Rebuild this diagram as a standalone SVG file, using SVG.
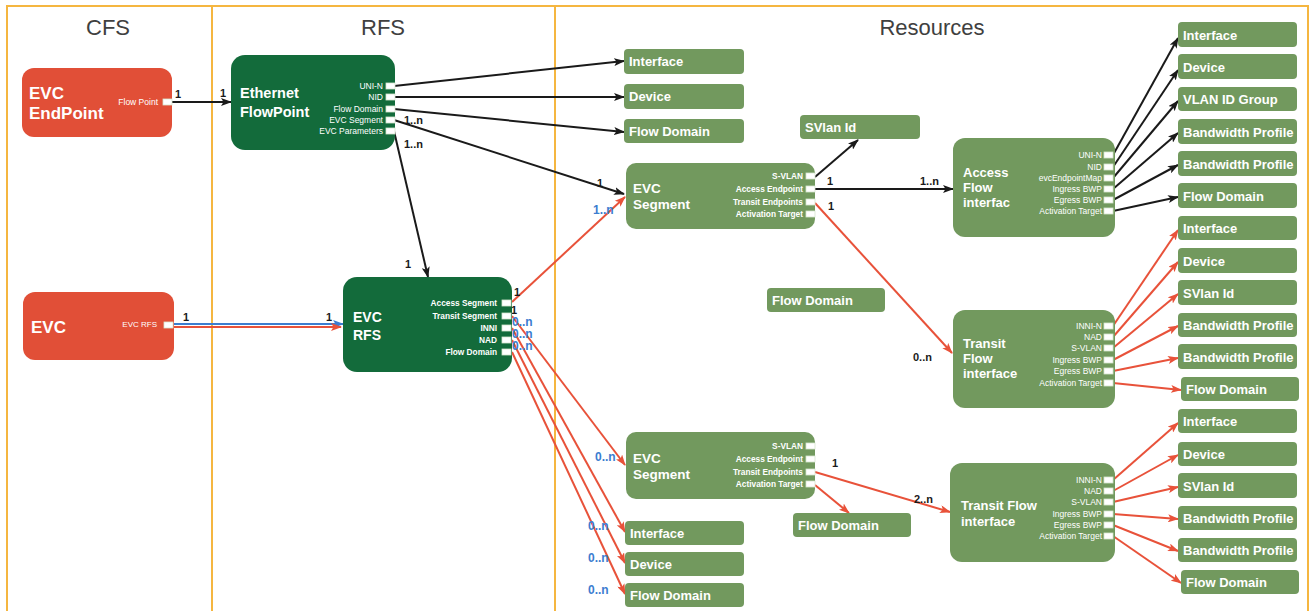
<svg xmlns="http://www.w3.org/2000/svg" width="1311" height="611" viewBox="0 0 1311 611">
<style>
.lane{stroke:#F5B640;stroke-width:2;fill:none}
.hdr{font-family:"Liberation Sans",Arial,sans-serif;font-size:22px;fill:#404040;text-anchor:middle}
.red{fill:#E14F37}
.dg{fill:#136B3B}
.og{fill:#72995E}
.t{font-family:"Liberation Sans",Arial,sans-serif;font-weight:bold;fill:#fff}
.pl{font-family:"Liberation Sans",Arial,sans-serif;font-size:8.5px;fill:#fff;text-anchor:end}
.plb{font-family:"Liberation Sans",Arial,sans-serif;font-size:8.3px;font-weight:bold;fill:#fff;text-anchor:end}
.port{fill:#fff;stroke:#d6e6cf;stroke-width:0.8}
.rt{font-family:"Liberation Sans",Arial,sans-serif;font-size:13px;font-weight:bold;fill:#fff}
.cb{stroke:#1a1a1a;stroke-width:2;fill:none}
.cr{stroke:#E8523A;stroke-width:2;fill:none}
.cbl{stroke:#3C7DD0;stroke-width:2;fill:none}
.lb{font-family:"Liberation Sans",Arial,sans-serif;font-size:11px;font-weight:bold;fill:#1a1a1a}
.lbb{font-family:"Liberation Sans",Arial,sans-serif;font-size:12px;font-weight:bold;fill:#3C7DD0}
</style>
<defs>
<marker id="ab" markerWidth="11" markerHeight="8" refX="10" refY="4" orient="auto" markerUnits="userSpaceOnUse"><path d="M0,0 L11,4 L0,8 L2.5,4 z" fill="#1a1a1a"/></marker>
<marker id="ar" markerWidth="11" markerHeight="8" refX="10" refY="4" orient="auto" markerUnits="userSpaceOnUse"><path d="M0,0 L11,4 L0,8 L2.5,4 z" fill="#E8523A"/></marker>
<marker id="abl" markerWidth="11" markerHeight="8" refX="10" refY="4" orient="auto" markerUnits="userSpaceOnUse"><path d="M0,0 L11,4 L0,8 L2.5,4 z" fill="#3C7DD0"/></marker>
</defs>
<rect width="1311" height="611" fill="#fff"/>
<g id="lanes">
<path class="lane" d="M7,611 V6 H1308 V611 M212,6 V611 M555,6 V611"/>
<text class="hdr" x="108" y="35">CFS</text>
<text class="hdr" x="383" y="35">RFS</text>
<text class="hdr" x="932" y="35">Resources</text>
</g>
<g id="connectors">
<path class="cb" d="M172,102 H231" marker-end="url(#ab)"/>
<path class="cb" d="M394,86 L624,61" marker-end="url(#ab)"/>
<path class="cb" d="M394,97 L624,97" marker-end="url(#ab)"/>
<path class="cb" d="M394,109 L624,132" marker-end="url(#ab)"/>
<path class="cb" d="M394,120 L624,194" marker-end="url(#ab)"/>
<path class="cb" d="M394,131 L428,277" marker-end="url(#ab)"/>
<path class="cb" d="M815,177 L858,140" marker-end="url(#ab)"/>
<path class="cb" d="M815,189 L953,189" marker-end="url(#ab)"/>
<path class="cb" d="M1113,155 L1178,38" marker-end="url(#ab)"/>
<path class="cb" d="M1113,167 L1178,70" marker-end="url(#ab)"/>
<path class="cb" d="M1113,178 L1178,101" marker-end="url(#ab)"/>
<path class="cb" d="M1113,189 L1178,133" marker-end="url(#ab)"/>
<path class="cb" d="M1113,200 L1178,165" marker-end="url(#ab)"/>
<path class="cb" d="M1113,211 L1178,197" marker-end="url(#ab)"/>
<path class="cbl" d="M173,324 H343" marker-end="url(#abl)"/>
<path class="cr" d="M173,327 H341" marker-end="url(#ar)"/>
<path class="cr" d="M512,302 L625,197" marker-end="url(#ar)"/>
<path class="cr" d="M512,316 L625,465" marker-end="url(#ar)"/>
<path class="cr" d="M512,328 L625,532" marker-end="url(#ar)"/>
<path class="cr" d="M512,340 L625,563" marker-end="url(#ar)"/>
<path class="cr" d="M512,352 L625,594" marker-end="url(#ar)"/>
<path class="cr" d="M815,203 L952,353" marker-end="url(#ar)"/>
<path class="cr" d="M1113,326 L1178,230" marker-end="url(#ar)"/>
<path class="cr" d="M1113,337 L1178,262" marker-end="url(#ar)"/>
<path class="cr" d="M1113,348 L1178,294" marker-end="url(#ar)"/>
<path class="cr" d="M1113,360 L1178,326" marker-end="url(#ar)"/>
<path class="cr" d="M1113,371 L1178,358" marker-end="url(#ar)"/>
<path class="cr" d="M1113,383 L1181,390" marker-end="url(#ar)"/>
<path class="cr" d="M815,472 L950,512" marker-end="url(#ar)"/>
<path class="cr" d="M815,485 L849,513" marker-end="url(#ar)"/>
<path class="cr" d="M1113,480 L1178,423" marker-end="url(#ar)"/>
<path class="cr" d="M1113,491 L1178,455" marker-end="url(#ar)"/>
<path class="cr" d="M1113,502 L1178,487" marker-end="url(#ar)"/>
<path class="cr" d="M1113,514 L1178,519" marker-end="url(#ar)"/>
<path class="cr" d="M1113,525 L1178,551" marker-end="url(#ar)"/>
<path class="cr" d="M1113,536 L1181,583" marker-end="url(#ar)"/>
<text class="lb" x="175" y="98">1</text>
<text class="lb" x="220" y="97">1</text>
<text class="lb" x="404" y="124">1..n</text>
<text class="lb" x="404" y="148">1..n</text>
<text class="lb" x="405" y="268">1</text>
<text class="lb" x="597" y="187">1</text>
<text class="lbb" x="593" y="214">1..n</text>
<text class="lb" x="183" y="321">1</text>
<text class="lb" x="326" y="321">1</text>
<text class="lb" x="514" y="296">1</text>
<text class="lb" x="511" y="314">1</text>
<text class="lbb" x="512" y="326">0..n</text>
<text class="lbb" x="512" y="338">0..n</text>
<text class="lbb" x="512" y="350">0..n</text>
<text class="lb" x="827" y="185">1</text>
<text class="lb" x="920" y="185">1..n</text>
<text class="lb" x="828" y="210">1</text>
<text class="lb" x="913" y="361">0..n</text>
<text class="lbb" x="595" y="461">0..n</text>
<text class="lbb" x="588" y="530">0..n</text>
<text class="lbb" x="588" y="562">0..n</text>
<text class="lbb" x="588" y="594">0..n</text>
<text class="lb" x="832" y="467">1</text>
<text class="lb" x="914" y="503">2..n</text>
</g>
<g id="evc-endpoint">
<rect class="red" x="22" y="68" width="150" height="69" rx="12"/>
<text class="t" x="29" y="99" font-size="17">EVC</text>
<text class="t" x="29" y="119" font-size="17">EndPoint</text>
<text class="pl" x="158" y="105" font-size="8">Flow Point</text>
<rect class="port" x="163" y="99" width="9" height="6" stroke="#3a9a4a"/>
</g>
<g id="evc">
<rect class="red" x="23" y="292" width="151" height="68" rx="12"/>
<text class="t" x="31" y="333" font-size="17">EVC</text>
<text class="pl" x="157" y="327" style="font-size:8px">EVC RFS</text>
<rect class="port" x="164" y="322" width="9" height="6" stroke="#3a9a4a"/>
</g>
<g id="ethernet-flowpoint">
<rect class="dg" x="231" y="55" width="164" height="95" rx="14"/>
<text class="t" x="240" y="98" font-size="14.5">Ethernet</text>
<text class="t" x="240" y="117" font-size="14.5">FlowPoint</text>
<text class="pl" x="383" y="89">UNI-N</text>
<text class="pl" x="383" y="100">NID</text>
<text class="pl" x="383" y="112">Flow Domain</text>
<text class="pl" x="383" y="123">EVC Segment</text>
<text class="pl" x="383" y="134">EVC Parameters</text>
<rect class="port" x="386" y="83" width="9" height="6"/>
<rect class="port" x="386" y="94" width="9" height="6"/>
<rect class="port" x="386" y="106" width="9" height="6"/>
<rect class="port" x="386" y="117" width="9" height="6"/>
<rect class="port" x="386" y="128" width="9" height="6"/>
</g>
<g id="evc-rfs">
<rect class="dg" x="343" y="277" width="169" height="95" rx="14"/>
<text class="t" x="353" y="322" font-size="14">EVC</text>
<text class="t" x="353" y="340" font-size="14">RFS</text>
<text class="plb" x="497" y="306">Access Segment</text>
<text class="plb" x="497" y="319">Transit Segment</text>
<text class="plb" x="497" y="331">INNI</text>
<text class="plb" x="497" y="343">NAD</text>
<text class="plb" x="497" y="355">Flow Domain</text>
<rect class="port" x="502" y="300" width="9" height="6"/>
<rect class="port" x="502" y="313" width="9" height="6"/>
<rect class="port" x="502" y="325" width="9" height="6"/>
<rect class="port" x="502" y="337" width="9" height="6"/>
<rect class="port" x="502" y="349" width="9" height="6"/>
</g>
<g id="evc-segment-1">
<rect class="og" x="626" y="163" width="189" height="66" rx="10"/>
<text class="t" x="633" y="193" font-size="13.5">EVC</text>
<text class="t" x="633" y="209" font-size="13.5">Segment</text>
<text class="plb" x="803" y="179">S-VLAN</text>
<text class="plb" x="803" y="192">Access Endpoint</text>
<text class="plb" x="803" y="205">Transit Endpoints</text>
<text class="plb" x="803" y="217">Activation Target</text>
<rect class="port" x="806" y="173" width="9" height="6"/>
<rect class="port" x="806" y="186" width="9" height="6"/>
<rect class="port" x="806" y="199" width="9" height="6"/>
<rect class="port" x="806" y="211" width="9" height="6"/>
</g>
<g id="evc-segment-2">
<rect class="og" x="626" y="432" width="189" height="67" rx="10"/>
<text class="t" x="633" y="463" font-size="13.5">EVC</text>
<text class="t" x="633" y="479" font-size="13.5">Segment</text>
<text class="plb" x="803" y="449">S-VLAN</text>
<text class="plb" x="803" y="462">Access Endpoint</text>
<text class="plb" x="803" y="475">Transit Endpoints</text>
<text class="plb" x="803" y="487">Activation Target</text>
<rect class="port" x="806" y="443" width="9" height="6"/>
<rect class="port" x="806" y="456" width="9" height="6"/>
<rect class="port" x="806" y="469" width="9" height="6"/>
<rect class="port" x="806" y="481" width="9" height="6"/>
</g>
<g id="access-flow-interface">
<rect class="og" x="953" y="138" width="162" height="99" rx="12"/>
<text class="t" x="963" y="177" font-size="13">Access</text>
<text class="t" x="963" y="192" font-size="13">Flow</text>
<text class="t" x="963" y="207" font-size="13">interfac</text>
<text class="pl" x="1102" y="158">UNI-N</text>
<text class="pl" x="1102" y="170">NID</text>
<text class="pl" x="1102" y="181">evcEndpointMap</text>
<text class="pl" x="1102" y="192">Ingress BWP</text>
<text class="pl" x="1102" y="203">Egress BWP</text>
<text class="pl" x="1102" y="214">Activation Target</text>
<rect class="port" x="1104" y="152" width="9" height="6"/>
<rect class="port" x="1104" y="164" width="9" height="6"/>
<rect class="port" x="1104" y="175" width="9" height="6"/>
<rect class="port" x="1104" y="186" width="9" height="6"/>
<rect class="port" x="1104" y="197" width="9" height="6"/>
<rect class="port" x="1104" y="208" width="9" height="6"/>
</g>
<g id="transit-flow-interface-1">
<rect class="og" x="953" y="310" width="162" height="98" rx="12"/>
<text class="t" x="963" y="348" font-size="13">Transit</text>
<text class="t" x="963" y="363" font-size="13">Flow</text>
<text class="t" x="963" y="378" font-size="13">interface</text>
<text class="pl" x="1102" y="329">INNI-N</text>
<text class="pl" x="1102" y="340">NAD</text>
<text class="pl" x="1102" y="351">S-VLAN</text>
<text class="pl" x="1102" y="363">Ingress BWP</text>
<text class="pl" x="1102" y="374">Egress BWP</text>
<text class="pl" x="1102" y="386">Activation Target</text>
<rect class="port" x="1104" y="323" width="9" height="6"/>
<rect class="port" x="1104" y="334" width="9" height="6"/>
<rect class="port" x="1104" y="345" width="9" height="6"/>
<rect class="port" x="1104" y="357" width="9" height="6"/>
<rect class="port" x="1104" y="368" width="9" height="6"/>
<rect class="port" x="1104" y="380" width="9" height="6"/>
</g>
<g id="transit-flow-interface-2">
<rect class="og" x="950" y="463" width="165" height="99" rx="12"/>
<text class="t" x="961" y="510" font-size="13">Transit Flow</text>
<text class="t" x="961" y="526" font-size="13">interface</text>
<text class="pl" x="1102" y="483">INNI-N</text>
<text class="pl" x="1102" y="494">NAD</text>
<text class="pl" x="1102" y="505">S-VLAN</text>
<text class="pl" x="1102" y="517">Ingress BWP</text>
<text class="pl" x="1102" y="528">Egress BWP</text>
<text class="pl" x="1102" y="539">Activation Target</text>
<rect class="port" x="1104" y="477" width="9" height="6"/>
<rect class="port" x="1104" y="488" width="9" height="6"/>
<rect class="port" x="1104" y="499" width="9" height="6"/>
<rect class="port" x="1104" y="511" width="9" height="6"/>
<rect class="port" x="1104" y="522" width="9" height="6"/>
<rect class="port" x="1104" y="533" width="9" height="6"/>
</g>
<g id="r-interface-a"><rect class="og" x="624" y="49" width="120" height="25" rx="4"/><text class="rt" x="629" y="66">Interface</text></g>
<g id="r-device-a"><rect class="og" x="624" y="84" width="120" height="25" rx="4"/><text class="rt" x="629" y="101">Device</text></g>
<g id="r-flowdomain-a"><rect class="og" x="624" y="119" width="120" height="24" rx="4"/><text class="rt" x="629" y="136">Flow Domain</text></g>
<g id="r-svlan-a"><rect class="og" x="800" y="115" width="120" height="24" rx="4"/><text class="rt" x="805" y="132">SVlan Id</text></g>
<g id="r-flowdomain-b"><rect class="og" x="767" y="288" width="118" height="24" rx="4"/><text class="rt" x="772" y="305">Flow Domain</text></g>
<g id="r-flowdomain-c"><rect class="og" x="793" y="513" width="118" height="24" rx="4"/><text class="rt" x="798" y="530">Flow Domain</text></g>
<g id="r-interface-b"><rect class="og" x="625" y="521" width="119" height="24" rx="4"/><text class="rt" x="630" y="538">Interface</text></g>
<g id="r-device-b"><rect class="og" x="625" y="552" width="119" height="24" rx="4"/><text class="rt" x="630" y="569">Device</text></g>
<g id="r-flowdomain-d"><rect class="og" x="625" y="583" width="119" height="24" rx="4"/><text class="rt" x="630" y="600">Flow Domain</text></g>
<g id="r-col1"><rect class="og" x="1178" y="22" width="119" height="25" rx="4"/><text class="rt" x="1183" y="40">Interface</text></g>
<g id="r-col2"><rect class="og" x="1178" y="54" width="119" height="25" rx="4"/><text class="rt" x="1183" y="72">Device</text></g>
<g id="r-col3"><rect class="og" x="1178" y="87" width="119" height="24" rx="4"/><text class="rt" x="1183" y="104">VLAN ID Group</text></g>
<g id="r-col4"><rect class="og" x="1178" y="119" width="119" height="25" rx="4"/><text class="rt" x="1183" y="137">Bandwidth Profile</text></g>
<g id="r-col5"><rect class="og" x="1178" y="151" width="119" height="25" rx="4"/><text class="rt" x="1183" y="169">Bandwidth Profile</text></g>
<g id="r-col6"><rect class="og" x="1178" y="183" width="119" height="25" rx="4"/><text class="rt" x="1183" y="201">Flow Domain</text></g>
<g id="r-col7"><rect class="og" x="1178" y="216" width="119" height="24" rx="4"/><text class="rt" x="1183" y="233">Interface</text></g>
<g id="r-col8"><rect class="og" x="1178" y="248" width="119" height="25" rx="4"/><text class="rt" x="1183" y="266">Device</text></g>
<g id="r-col9"><rect class="og" x="1178" y="280" width="119" height="25" rx="4"/><text class="rt" x="1183" y="298">SVlan Id</text></g>
<g id="r-col10"><rect class="og" x="1178" y="313" width="119" height="24" rx="4"/><text class="rt" x="1183" y="330">Bandwidth Profile</text></g>
<g id="r-col11"><rect class="og" x="1178" y="344" width="119" height="25" rx="4"/><text class="rt" x="1183" y="362">Bandwidth Profile</text></g>
<g id="r-col12"><rect class="og" x="1181" y="377" width="118" height="24" rx="4"/><text class="rt" x="1186" y="394">Flow Domain</text></g>
<g id="r-col13"><rect class="og" x="1178" y="409" width="119" height="24" rx="4"/><text class="rt" x="1183" y="426">Interface</text></g>
<g id="r-col14"><rect class="og" x="1178" y="442" width="119" height="24" rx="4"/><text class="rt" x="1183" y="459">Device</text></g>
<g id="r-col15"><rect class="og" x="1178" y="473" width="119" height="25" rx="4"/><text class="rt" x="1183" y="491">SVlan Id</text></g>
<g id="r-col16"><rect class="og" x="1178" y="506" width="119" height="24" rx="4"/><text class="rt" x="1183" y="523">Bandwidth Profile</text></g>
<g id="r-col17"><rect class="og" x="1178" y="538" width="119" height="24" rx="4"/><text class="rt" x="1183" y="555">Bandwidth Profile</text></g>
<g id="r-col18"><rect class="og" x="1181" y="570" width="118" height="24" rx="4"/><text class="rt" x="1186" y="587">Flow Domain</text></g>
</svg>
